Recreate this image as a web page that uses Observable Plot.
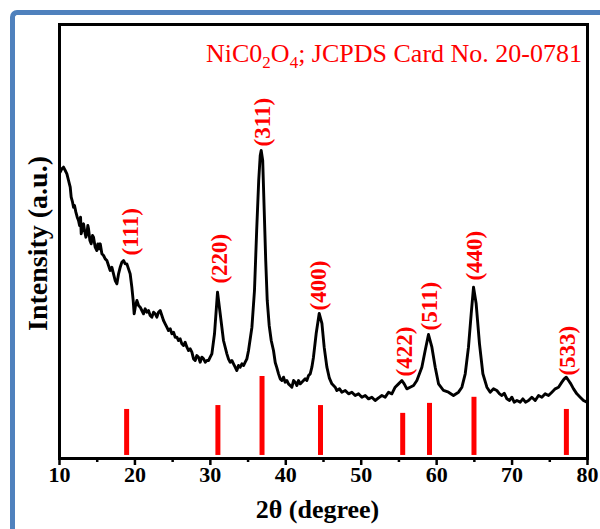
<!DOCTYPE html>
<html>
<head>
<meta charset="utf-8">
<script src="https://cdn.jsdelivr.net/npm/d3@7"></script>
<script src="https://cdn.jsdelivr.net/npm/@observablehq/plot@0.6"></script>
<style>
  html, body { margin: 0; padding: 0; background: #fff; overflow: hidden; }
  #wrap { position: relative; width: 600px; height: 529px; }
  #border { position: absolute; left: 10px; top: 10px; width: 620px; height: 560px;
            border-left: 5px solid #4f81bd; border-top: 5px solid #4f81bd;
            border-top-left-radius: 7px; box-sizing: border-box; }
  #chart { position: absolute; left: 0; top: 0; }
  #chart svg text { font-family: "Liberation Serif", "Times New Roman", serif; }
  #chart g[aria-label="x-axis tick label"] text { font-weight: bold; }
</style>
</head>
<body>
<div id="wrap"><div id="border"></div><div id="chart"></div></div>
<script>
// XRD pattern (2θ in degrees, intensity in arbitrary units)
const theta = [10.09,10.31,10.53,10.76,10.98,11.20,11.42,11.55,11.73,11.86,11.99,12.17,12.35,12.52,12.66,12.79,12.88,13.05,13.19,13.32,13.50,13.63,13.76,13.85,14.03,14.20,14.38,14.51,14.73,14.95,15.09,15.26,15.40,15.62,15.84,16.06,16.28,16.50,16.72,16.94,17.16,17.38,17.61,17.83,18.05,18.27,18.49,18.71,18.93,19.15,19.37,19.59,19.77,19.90,20.08,20.26,20.48,20.70,20.92,21.14,21.36,21.58,21.80,22.02,22.25,22.47,22.69,22.91,23.13,23.35,23.57,23.79,24.01,24.23,24.45,24.68,24.90,25.12,25.34,25.56,25.78,26.00,26.22,26.44,26.66,26.89,27.11,27.33,27.55,27.77,27.99,28.21,28.43,28.65,28.87,29.10,29.32,29.54,29.76,29.98,30.20,
  30.55,30.95,31.30,31.74,32.19,32.41,32.63,32.85,33.07,33.29,33.51,33.73,33.96,34.18,34.40,34.62,34.84,35.06,35.51,35.85,36.14,36.41,36.61,36.74,36.94,37.14,37.34,37.54,37.80,38.07,38.37,38.60,38.80,
  39.04,39.26,39.48,39.70,39.92,40.14,40.36,40.58,40.81,41.03,41.25,41.47,41.69,41.91,42.13,42.35,42.57,42.79,43.02,43.24,43.46,43.67,44.03,44.43,44.79,45.09,45.45,45.78,
  46.11,46.55,46.77,47.13,47.43,47.88,48.32,48.76,49.20,49.64,50.09,50.53,50.97,51.41,51.85,52.30,52.74,53.18,53.62,54.06,54.50,54.95,55.39,55.70,56.05,56.49,56.94,57.38,
  58.04,58.48,58.92,59.37,59.81,60.25,60.91,61.57,62.23,62.90,63.35,63.79,64.22,64.58,64.89,65.24,65.68,66.13,66.66,
  67.10,67.54,67.98,68.34,68.65,68.96,69.31,69.66,69.97,70.28,70.64,71.08,71.43,71.78,72.18,72.62,73.07,73.51,73.95,74.39,74.83,75.28,75.72,76.16,76.60,76.91,77.18,77.49,77.79,78.15,78.59,79.03,79.47,79.92,80.00];
const intensity = [65.97,66.74,67.13,66.36,65.59,64.05,62.52,60.21,59.06,57.91,58.29,56.76,55.61,54.84,53.68,55.61,51.77,53.30,54.07,52.53,51.00,51.76,53.69,52.92,50.23,49.46,51.38,51.00,48.69,47.92,49.46,48.31,49.46,47.16,46.77,46.00,45.62,44.47,43.32,44.08,42.55,41.01,40.24,42.55,44.08,45.24,45.62,44.85,44.85,43.70,42.55,39.48,36.40,33.33,35.25,36.40,35.25,34.87,34.10,33.33,34.49,33.72,34.10,32.95,32.57,33.72,33.33,32.57,33.72,34.10,32.95,31.80,31.03,30.26,29.49,29.88,28.72,29.11,27.95,27.95,27.19,27.57,26.42,26.03,26.80,25.65,24.88,25.27,24.50,22.96,22.58,23.73,23.35,22.19,23.35,22.96,22.19,22.58,22.58,23.35,24.12,
  28.73,38.32,33.41,27.19,24.12,22.90,22.19,22.58,21.81,21.04,20.27,21.43,21.04,21.81,21.43,22.19,22.96,24.88,30.25,38.71,52.53,64.06,69.82,70.97,68.66,57.14,45.62,36.41,30.65,27.19,24.88,22.12,21.00,
  19.50,18.35,17.97,18.74,17.58,17.97,17.20,16.82,16.43,17.97,17.58,16.82,17.97,17.20,17.58,17.97,18.35,17.97,19.12,19.50,21.04,23.34,28.80,33.41,31.11,25.65,21.04,18.50,
  17.20,16.43,15.66,16.05,15.28,15.66,14.90,15.28,14.51,14.90,14.13,14.51,13.74,14.13,13.36,13.97,14.51,14.13,15.28,14.90,16.43,17.20,17.97,17.20,16.05,16.43,16.82,17.97,
  21.04,24.88,28.57,25.65,21.04,17.21,15.67,15.28,14.52,15.28,16.43,19.52,25.65,33.34,39.47,35.65,26.43,19.52,16.43,
  15.28,16.05,15.67,14.90,14.51,15.05,13.75,13.36,14.13,12.98,13.36,12.98,13.75,12.98,13.36,14.13,13.36,14.51,14.13,14.90,14.51,15.28,16.05,16.43,17.59,18.35,18.74,17.97,17.20,16.05,14.90,14.13,13.36,12.98,13.50];

// JCPDS 20-0781 reference lines
const refPos = [18.9, 31.0, 36.85, 44.6, 55.5, 59.05, 64.95, 77.2];
const refTop = [11.3, 12.2, 18.9, 12.2, 10.4, 12.7, 14.1, 11.3];
const refBase = 0.7;

// (hkl) labels
const hkl = ["(111)", "(220)", "(311)", "(400)", "(422)", "(511)", "(440)", "(533)"];
const hklX = [19.4, 31.2, 36.9, 44.3, 55.7, 59.1, 65.0, 77.3];
const hklY = [46.8, 40.3, 71.9, 34.1, 18.9, 29.5, 41.0, 19.1];

const xTicks = [10, 20, 30, 40, 50, 60, 70, 80];
const xMinorTicks = [15, 25, 35, 45, 55, 65, 75];

const titleParts = [["NiC0", false], ["2", true], ["O", false], ["4", true], ["; JCPDS Card No. 20-0781", false]];
const xLabel = "2θ (degree)";
const yLabel = "Intensity (a.u.)";

const curve = theta.map((t, i) => ({t, v: intensity[i]}));
const refs = refPos.map((p, i) => ({p, top: refTop[i], base: refBase}));
const labels = hkl.map((h, i) => ({h, x: hklX[i], y: hklY[i]}));

const red = "#f00";

const chart = Plot.plot({
  width: 600,
  height: 529,
  marginLeft: 59,
  marginRight: 13,
  marginTop: 24,
  marginBottom: 71,
  style: {background: "transparent", fontFamily: "'Liberation Serif', 'Times New Roman', serif", overflow: "visible"},
  x: {domain: [10, 80]},
  y: {domain: [0, 100], axis: null},
  marks: [
    Plot.ruleX(refs, {x: "p", y1: "base", y2: "top", stroke: red, strokeWidth: 5}),
    Plot.line(curve, {x: "t", y: "v", stroke: "#000", strokeWidth: 2.9, strokeLinejoin: "round"}),
    Plot.text(labels, {x: "x", y: "y", text: "h", rotate: -90, textAnchor: "start", lineAnchor: "middle",
      fill: red, fontSize: 23, fontWeight: "bold"}),
    Plot.frame({stroke: "#000", strokeWidth: 3}),
    Plot.axisX({ticks: xTicks, tickSize: 7, tickPadding: 1, tickFormat: d => String(d), fontSize: 22,
      fontWeight: "bold", label: null, strokeWidth: 2.5, stroke: "#000", fill: "#000"}),
    Plot.axisX({ticks: xMinorTicks, tickSize: 4, tickFormat: () => "", label: null, strokeWidth: 2.5, stroke: "#000"}),
    Plot.text([xLabel], {frameAnchor: "bottom", dx: -6, dy: 51, lineAnchor: "middle", fontSize: 26, fontWeight: "bold", fill: "#000"}),
    Plot.text([yLabel], {frameAnchor: "left", dx: -21, dy: 2, rotate: -90, textAnchor: "middle", lineAnchor: "middle",
      fontSize: 28, fontWeight: "bold", fill: "#000"})
  ]
});

document.getElementById("chart").appendChild(chart);

// Title with subscripts
const t = d3.select(chart).append("text")
  .attr("x", 582).attr("y", 62)
  .attr("text-anchor", "end")
  .attr("fill", red)
  .style("font-size", "26px")
  .style("font-family", "'Liberation Serif', 'Times New Roman', serif");
titleParts.forEach(([s, sub], i) => {
  const prevSub = i > 0 && titleParts[i - 1][1];
  const sp = t.append("tspan").text(s);
  if (sub && !prevSub) sp.attr("dy", 6);
  else if (!sub && prevSub) sp.attr("dy", -6);
  if (sub) sp.style("font-size", "17px");
});
</script>
</body>
</html>
